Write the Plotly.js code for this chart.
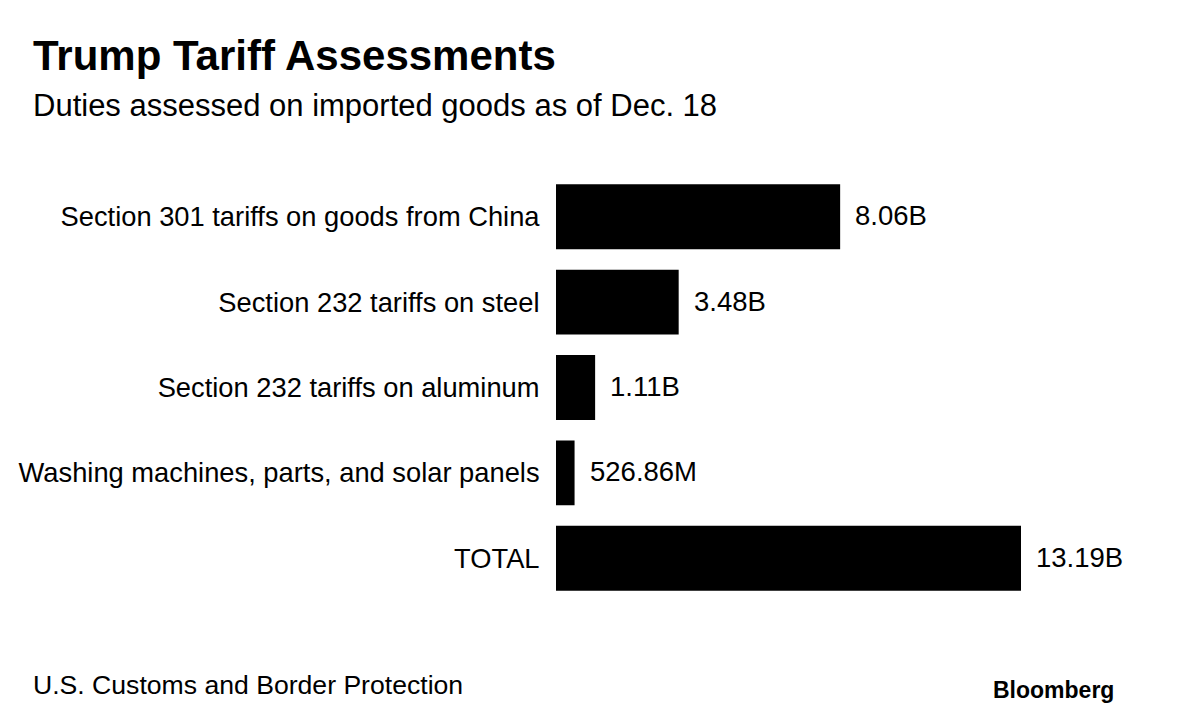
<!DOCTYPE html>
<html>
<head>
<meta charset="utf-8">
<script src="https://cdn.plot.ly/plotly-3.0.1.min.js"></script>
<style>
html,body{margin:0;padding:0;background:#fff;}
#chart{width:1200px;height:716px;}
</style>
</head>
<body>
<div id="chart"></div>
<script>
const categories = [
  "Section 301 tariffs on goods from China",
  "Section 232 tariffs on steel",
  "Section 232 tariffs on aluminum",
  "Washing machines, parts, and solar panels",
  "TOTAL"
];
const valuesB = [8.06, 3.48, 1.11, 0.52686, 13.19];
const valueLabels = ["8.06B", "3.48B", "1.11B", "526.86M", "13.19B"];

const titleText = "Trump Tariff Assessments";
const subtitleText = "Duties assessed on imported goods as of Dec. 18";
const sourceText = "U.S. Customs and Border Protection";
const brandText = "Bloomberg";

const FONT = "Liberation Sans, Arial, Helvetica, sans-serif";

// plot area geometry (pixels)
const W = 1200, H = 716;
const mL = 556, mR = 50, mT = 174, mB = 115;
const pw = W - mL - mR, ph = H - mT - mB;
const px = x => (x - mL) / pw;
const py = y => (H - mB - y) / ph;

const trace = {
  type: "bar",
  orientation: "h",
  x: valuesB,
  y: categories,
  marker: {color: "#000000", line: {width: 0}},
  hoverinfo: "skip"
};

const annotations = valueLabels.map((t, i) => ({
  x: valuesB[i], y: categories[i], xref: "x", yref: "y",
  text: t, showarrow: false, xanchor: "left", yanchor: "middle",
  xshift: 13, yshift: 1,
  font: {family: FONT, size: 27.5, color: "#000"}
}));

annotations.push(
  {text: "<b>" + titleText + "</b>", xref: "paper", yref: "paper",
   x: px(31), y: py(56), xanchor: "left", yanchor: "middle", showarrow: false,
   font: {family: FONT, size: 42, color: "#000"}},
  {text: subtitleText, xref: "paper", yref: "paper",
   x: px(31), y: py(105), xanchor: "left", yanchor: "middle", showarrow: false,
   font: {family: FONT, size: 31, color: "#000"}},
  {text: sourceText, xref: "paper", yref: "paper",
   x: px(31), y: py(685), xanchor: "left", yanchor: "middle", showarrow: false,
   font: {family: FONT, size: 26.6, color: "#000"}},
  {text: "<b>" + brandText + "</b>", xref: "paper", yref: "paper",
   x: px(1116), y: py(690), xanchor: "right", yanchor: "middle", showarrow: false,
   font: {family: FONT, size: 23, color: "#000"}}
);

const layout = {
  width: W, height: H,
  margin: {l: mL, r: mR, t: mT, b: mB, pad: 0},
  paper_bgcolor: "#fff", plot_bgcolor: "#fff",
  showlegend: false,
  bargap: 0.24,
  xaxis: {
    range: [0, pw / (465 / 13.19)],
    visible: false, fixedrange: true
  },
  yaxis: {
    autorange: "reversed",
    showgrid: false, zeroline: false, showline: false,
    ticks: "outside", ticklen: 10, tickcolor: "rgba(0,0,0,0)",
    tickfont: {family: FONT, size: 27.3, color: "#000"},
    fixedrange: true
  },
  annotations: annotations,
  hovermode: false
};

Plotly.newPlot("chart", [trace], layout, {displayModeBar: false, staticPlot: true});
</script>
</body>
</html>
